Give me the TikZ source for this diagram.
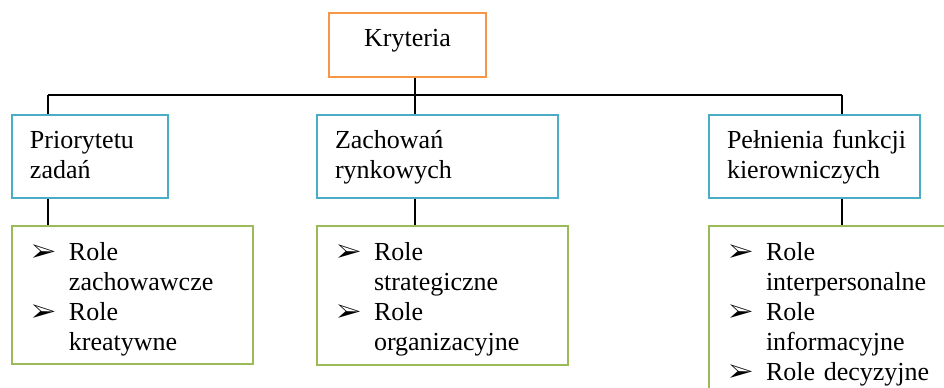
\documentclass[tikz,border=0pt]{standalone}
\usepackage{fontspec}
\setmainfont{Liberation Serif}
\usepackage{pifont}
\usetikzlibrary{positioning}
\definecolor{krytorange}{HTML}{F79646}
\definecolor{grupblue}{HTML}{4BACC6}
\definecolor{rolegreen}{HTML}{9BBB59}
\tikzstyle{box}=[draw, line width=1pt, inner sep=0pt, font=\fontsize{13}{15}\selectfont]
\tikzstyle{rootbox}=[box, draw=krytorange, minimum width=78.5pt, text height=17pt, text depth=15pt]
\tikzstyle{critbox}=[box, draw=grupblue, align=left, inner xsep=9pt, text height=16.75pt, text depth=24.75pt]
\tikzstyle{rolebox}=[box, draw=rolegreen, align=left, inner xsep=10pt, text height=17pt]
\tikzstyle{link}=[line width=0.7pt]
\tikzstyle{bar}=[line width=1.2pt]
\newcommand{\bul}{\makebox[18.5pt][l]{\ding{226}}}
\newcommand{\ind}{\hspace*{18.5pt}}

\begin{document}
\begin{tikzpicture}[x=0.5pt,y=-0.5pt]
    \useasboundingbox (0,0) rectangle (944,387);

    \node (kryt) [rootbox] at (407.5,44.5) {Kryteria};

    \node (prio) [critbox, text width=60pt, anchor=north west] at (11,114) {Priorytetu\\zadań};
    \node (zach) [critbox, text width=102.5pt, anchor=north west] at (316,114) {Zachowań\\rynkowych};
    \node (peln) [critbox, text width=87.5pt, anchor=north west] at (708,114) {Pełnienia~funkcji\\kierowniczych};

    \node (rolP) [rolebox, text width=100.5pt, text depth=52pt, below=13pt of prio.south west, anchor=north west]
        {\bul Role\\\ind zachowawcze\\\bul Role\\\ind kreatywne};
    \node (rolZ) [rolebox, text width=105.5pt, text depth=52.5pt, below=13pt of zach.south west, anchor=north west]
        {\bul Role\\\ind strategiczne\\\bul Role\\\ind organizacyjne};
    \node (rolK) [rolebox, text width=105pt, text depth=70.5pt, below=13pt of peln.south west, anchor=north west]
        {\bul Role\\\ind interpersonalne\\\bul Role\\\ind informacyjne\\\bul Role decyzyjne};

    \coordinate (busL) at (48,95);
    \coordinate (busM) at (415,95);
    \coordinate (busR) at (842,95);

    \draw[bar] (busL) -- (busR);
    \draw[link] (busM |- kryt.south) -- (busM |- zach.north);
    \draw[link] (busL) -- (busL |- prio.north);
    \draw[link] (busR) -- (busR |- peln.north);

    \draw[link] (prio.south -| busL) -- (busL |- rolP.north);
    \draw[link] (zach.south -| busM) -- (busM |- rolZ.north);
    \draw[link] (peln.south -| busR) -- (busR |- rolK.north);
\end{tikzpicture}
\end{document}
